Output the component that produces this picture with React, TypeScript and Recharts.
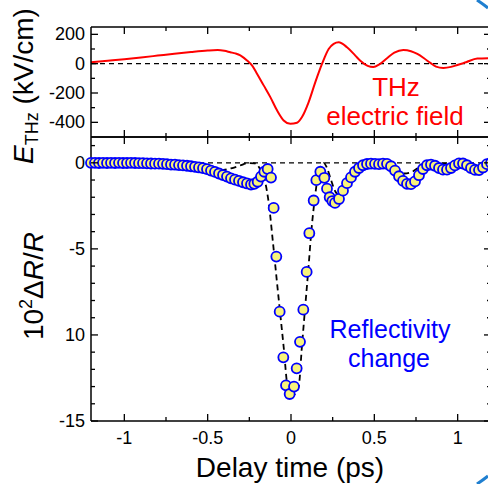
import React from "react";
import { ComposedChart, Line, XAxis, YAxis, ReferenceLine } from "recharts";

// THz field waveform (ps, kV/cm)
const fieldData = [
  { t: -1.2, e: 10 }, { t: -1.1, e: 20 }, { t: -1.0, e: 30 }, { t: -0.9, e: 42 },
  { t: -0.8, e: 55 }, { t: -0.7, e: 68 }, { t: -0.6, e: 80 }, { t: -0.5, e: 90 },
  { t: -0.44, e: 93 }, { t: -0.4, e: 88 }, { t: -0.364, e: 78 }, { t: -0.334, e: 70 },
  { t: -0.304, e: 57 }, { t: -0.264, e: 22 }, { t: -0.234, e: -12 }, { t: -0.204, e: -68 },
  { t: -0.164, e: -148 }, { t: -0.124, e: -228 }, { t: -0.084, e: -318 }, { t: -0.044, e: -387 },
  { t: -0.004, e: -410 }, { t: 0.036, e: -403 }, { t: 0.066, e: -364 }, { t: 0.106, e: -262 },
  { t: 0.146, e: -126 }, { t: 0.186, e: -2 }, { t: 0.226, e: 100 }, { t: 0.256, e: 135 },
  { t: 0.286, e: 146 }, { t: 0.336, e: 112 }, { t: 0.386, e: 55 }, { t: 0.416, e: 20 },
  { t: 0.46, e: -15 }, { t: 0.494, e: -23 }, { t: 0.53, e: -5 }, { t: 0.578, e: 39 },
  { t: 0.62, e: 75 }, { t: 0.674, e: 93 }, { t: 0.72, e: 85 }, { t: 0.758, e: 66 },
  { t: 0.8, e: 35 }, { t: 0.836, e: 5 }, { t: 0.87, e: -20 }, { t: 0.914, e: -29 },
  { t: 0.96, e: -22 }, { t: 0.998, e: -9 }, { t: 1.05, e: 10 }, { t: 1.118, e: 35 },
  { t: 1.2, e: 38 },
];

// measured reflectivity change (10^2 dR/R)
const reflData = [
  { t: -1.2, r: 0 }, { t: -1.176, r: 0 }, { t: -1.152, r: -0.01 }, { t: -1.128, r: 0 },
  { t: -1.104, r: -0.01 }, { t: -1.08, r: 0 }, { t: -1.056, r: -0.01 }, { t: -1.032, r: 0 },
  { t: -1.008, r: -0.01 }, { t: -0.984, r: -0.01 }, { t: -0.96, r: 0 }, { t: -0.936, r: -0.01 },
  { t: -0.912, r: -0.02 }, { t: -0.888, r: -0.02 }, { t: -0.864, r: -0.03 }, { t: -0.84, r: -0.04 },
  { t: -0.816, r: -0.05 }, { t: -0.792, r: -0.05 }, { t: -0.768, r: -0.06 }, { t: -0.744, r: -0.08 },
  { t: -0.72, r: -0.1 }, { t: -0.696, r: -0.11 }, { t: -0.672, r: -0.13 }, { t: -0.648, r: -0.15 },
  { t: -0.624, r: -0.17 }, { t: -0.6, r: -0.2 }, { t: -0.576, r: -0.23 }, { t: -0.552, r: -0.27 },
  { t: -0.528, r: -0.31 }, { t: -0.504, r: -0.37 }, { t: -0.48, r: -0.45 }, { t: -0.456, r: -0.53 },
  { t: -0.432, r: -0.62 }, { t: -0.408, r: -0.71 }, { t: -0.384, r: -0.8 }, { t: -0.36, r: -0.9 },
  { t: -0.336, r: -0.98 }, { t: -0.312, r: -1.05 }, { t: -0.288, r: -1.13 }, { t: -0.264, r: -1.2 },
  { t: -0.24, r: -1.26 }, { t: -0.22, r: -1.22 }, { t: -0.2, r: -1.1 }, { t: -0.18, r: -0.8 },
  { t: -0.16, r: -0.52 }, { t: -0.14, r: -0.36 }, { t: -0.12, r: -0.86 }, { t: -0.104, r: -2.62 },
  { t: -0.088, r: -5.45 }, { t: -0.068, r: -8.65 }, { t: -0.046, r: -11.3 }, { t: -0.03, r: -12.93 },
  { t: -0.008, r: -13.43 }, { t: 0.018, r: -13.0 }, { t: 0.034, r: -11.94 }, { t: 0.054, r: -10.4 },
  { t: 0.074, r: -8.53 }, { t: 0.094, r: -6.34 }, { t: 0.11, r: -4.09 }, { t: 0.136, r: -2.19 },
  { t: 0.152, r: -1.01 }, { t: 0.176, r: -0.52 }, { t: 0.2, r: -0.87 }, { t: 0.216, r: -1.5 },
  { t: 0.232, r: -2.0 }, { t: 0.248, r: -2.22 }, { t: 0.264, r: -2.33 }, { t: 0.288, r: -2.1 },
  { t: 0.312, r: -1.62 }, { t: 0.336, r: -1.18 }, { t: 0.36, r: -0.85 }, { t: 0.384, r: -0.52 },
  { t: 0.408, r: -0.3 }, { t: 0.432, r: -0.14 }, { t: 0.456, r: -0.07 }, { t: 0.48, r: -0.05 },
  { t: 0.504, r: -0.06 }, { t: 0.528, r: -0.08 }, { t: 0.552, r: -0.05 }, { t: 0.576, r: -0.06 },
  { t: 0.6, r: -0.2 }, { t: 0.624, r: -0.45 }, { t: 0.648, r: -0.78 }, { t: 0.672, r: -1.05 },
  { t: 0.696, r: -1.22 }, { t: 0.72, r: -1.24 }, { t: 0.744, r: -1.08 }, { t: 0.768, r: -0.72 },
  { t: 0.792, r: -0.36 }, { t: 0.816, r: -0.14 }, { t: 0.84, r: -0.1 }, { t: 0.864, r: -0.17 },
  { t: 0.888, r: -0.3 }, { t: 0.912, r: -0.4 }, { t: 0.936, r: -0.4 }, { t: 0.96, r: -0.3 },
  { t: 0.984, r: -0.15 }, { t: 1.008, r: -0.03 }, { t: 1.032, r: -0.04 }, { t: 1.056, r: -0.14 },
  { t: 1.08, r: -0.3 }, { t: 1.104, r: -0.41 }, { t: 1.128, r: -0.42 }, { t: 1.152, r: -0.27 },
  { t: 1.176, r: -0.08 }, { t: 1.2, r: 0 },
];

// E^2-type fit (dashed)
const fitData = [
  { t: -1.2, f: 0 }, { t: -1.0, f: -0.05 }, { t: -0.84, f: -0.12 }, { t: -0.7, f: -0.25 },
  { t: -0.6, f: -0.36 }, { t: -0.52, f: -0.42 }, { t: -0.44, f: -0.44 }, { t: -0.36, f: -0.32 },
  { t: -0.3, f: -0.14 }, { t: -0.26, f: -0.02 }, { t: -0.22, f: -0.03 }, { t: -0.184, f: -0.39 },
  { t: -0.154, f: -1.16 }, { t: -0.134, f: -2.3 }, { t: -0.108, f: -4.65 }, { t: -0.084, f: -6.95 },
  { t: -0.044, f: -10.7 }, { t: -0.02, f: -13.0 }, { t: 0.012, f: -13.5 }, { t: 0.046, f: -13.0 },
  { t: 0.066, f: -10.6 }, { t: 0.086, f: -8.27 }, { t: 0.106, f: -5.95 }, { t: 0.12, f: -4.2 },
  { t: 0.14, f: -2.3 }, { t: 0.16, f: -0.87 }, { t: 0.18, f: -0.2 }, { t: 0.196, f: 0 },
  { t: 0.216, f: -0.3 }, { t: 0.236, f: -0.87 }, { t: 0.266, f: -1.67 }, { t: 0.29, f: -1.9 },
  { t: 0.32, f: -1.55 }, { t: 0.35, f: -1.05 }, { t: 0.39, f: -0.45 }, { t: 0.43, f: -0.1 },
  { t: 0.47, f: -0.01 }, { t: 0.5, f: -0.03 }, { t: 0.55, f: -0.02 }, { t: 0.6, f: -0.15 },
  { t: 0.65, f: -0.45 }, { t: 0.68, f: -0.62 }, { t: 0.72, f: -0.55 }, { t: 0.76, f: -0.32 },
  { t: 0.8, f: -0.1 }, { t: 0.84, f: 0 }, { t: 0.9, f: -0.05 }, { t: 0.95, f: -0.05 },
  { t: 1.0, f: 0 }, { t: 1.06, f: -0.05 }, { t: 1.12, f: -0.12 }, { t: 1.2, f: -0.12 },
];

const delayMajor = [-1, -0.5, 0, 0.5, 1];
const delayLabels = ["-1", "-0.5", "0", "0.5", "1"];
const delayMinor = [-0.75, -0.25, 0.25, 0.75];

const fieldMajor = [200, 0, -200, -400];
const fieldLabels = ["200", "0", "-200", "-400"];
const fieldMinor = [100, -100, -300];

const reflMajor = [0, -5, -10, -15];
const reflLabels = ["0", "-5", "10", "-15"];
const reflMinor = [1, -1, -2, -3, -4, -6, -7, -8, -9, -11, -12, -13, -14];

const FONT = "'Liberation Sans', Arial, Helvetica, sans-serif";

const makeTick =
  (side: string, majors: number[], labels: string[] | null) => (props: any) => {
    const { x, y, payload } = props;
    const i = majors.findIndex((m) => Math.abs(m - payload.value) < 1e-6);
    const len = i >= 0 ? 7 : 4;
    let line = null;
    let text = null;
    if (side === "left") {
      line = <line x1={x} y1={y} x2={x + len} y2={y} />;
      if (labels && i >= 0)
        text = <text x={x - 6} y={y + 6} textAnchor='end'>{labels[i]}</text>;
    } else if (side === "right") {
      line = <line x1={x} y1={y} x2={x - len} y2={y} />;
    } else if (side === "bottom") {
      line = <line x1={x} y1={y} x2={x} y2={y - len} />;
      if (labels && i >= 0)
        text = <text x={x} y={y + 23} textAnchor='middle'>{labels[i]}</text>;
    } else {
      line = <line x1={x} y1={y} x2={x} y2={y + len} />;
    }
    return (
      <g>
        <g stroke='#000' strokeWidth={1.3}>{line}</g>
        {text && (
          <g fill='#000' fontSize={18} fontFamily={FONT}>
            {text}
          </g>
        )}
      </g>
    );
  };

const axisLine = { stroke: "#000", strokeWidth: 1.5 };
const delayTicks = [...delayMajor, ...delayMinor];

export default function App() {
  return (
    <div
      style={{
        position: "absolute",
        left: 0,
        top: 0,
        width: 488,
        height: 484,
        overflow: "hidden",
        background: "#fff",
      }}
    >
      {/* THz field panel */}
      <div style={{ position: "absolute", left: 0, top: 0 }}>
        <ComposedChart width={492} height={138} margin={{ top: 26, right: 0, bottom: 0, left: 0 }}>
          <XAxis xAxisId='b' dataKey='t' type='number' domain={[-1.2, 1.2]} allowDataOverflow
            orientation='bottom' height={1} ticks={delayTicks} interval={0} tickSize={0} tickMargin={0}
            tickLine={false} axisLine={axisLine} tick={makeTick("bottom", delayMajor, null)} />
          <XAxis xAxisId='t' dataKey='t' type='number' domain={[-1.2, 1.2]} allowDataOverflow
            orientation='top' height={1} ticks={delayTicks} interval={0} tickSize={0} tickMargin={0}
            tickLine={false} axisLine={axisLine} tick={makeTick("top", delayMajor, null)} />
          <YAxis yAxisId='l' type='number' domain={[-500, 250]} allowDataOverflow width={91}
            ticks={[...fieldMajor, ...fieldMinor]} interval={0} tickSize={0} tickMargin={0}
            tickLine={false} axisLine={axisLine} tick={makeTick("left", fieldMajor, fieldLabels)} />
          <YAxis yAxisId='r' orientation='right' type='number' domain={[-500, 250]} allowDataOverflow width={1}
            ticks={[...fieldMajor, ...fieldMinor]} interval={0} tickSize={0} tickMargin={0}
            tickLine={false} axisLine={axisLine} tick={makeTick("right", fieldMajor, null)} />
          <ReferenceLine xAxisId='b' yAxisId='l' y={0} stroke='#000' strokeWidth={1.3} strokeDasharray='5 4' />
          <Line xAxisId='b' yAxisId='l' data={fieldData} dataKey='e' type='monotone'
            stroke='#ff0000' strokeWidth={2} dot={false} activeDot={false} isAnimationActive={false} />
        </ComposedChart>
      </div>

      {/* reflectivity panel */}
      <div style={{ position: "absolute", left: 0, top: 136 }}>
        <ComposedChart width={492} height={348} margin={{ top: 0, right: 0, bottom: 0, left: 0 }}>
          <XAxis xAxisId='b' dataKey='t' type='number' domain={[-1.2, 1.2]} allowDataOverflow
            orientation='bottom' height={63} ticks={delayTicks} interval={0} tickSize={0} tickMargin={0}
            tickLine={false} axisLine={axisLine} tick={makeTick("bottom", delayMajor, delayLabels)} />
          <XAxis xAxisId='t' dataKey='t' type='number' domain={[-1.2, 1.2]} allowDataOverflow
            orientation='top' height={1} ticks={delayTicks} interval={0} tickSize={0} tickMargin={0}
            tickLine={false} axisLine={axisLine} tick={makeTick("top", delayMajor, null)} />
          <YAxis yAxisId='l' type='number' domain={[-15, 1.5]} allowDataOverflow width={91}
            ticks={[...reflMajor, ...reflMinor]} interval={0} tickSize={0} tickMargin={0}
            tickLine={false} axisLine={axisLine} tick={makeTick("left", reflMajor, reflLabels)} />
          <YAxis yAxisId='r' orientation='right' type='number' domain={[-15, 1.5]} allowDataOverflow width={1}
            ticks={[...reflMajor, ...reflMinor]} interval={0} tickSize={0} tickMargin={0}
            tickLine={false} axisLine={axisLine} tick={makeTick("right", reflMajor, null)} />
          <ReferenceLine xAxisId='b' yAxisId='l' y={0} stroke='#000' strokeWidth={1.3} strokeDasharray='5 4' />
          <Line xAxisId='b' yAxisId='l' data={reflData} dataKey='r' stroke='none'
            dot={{ r: 5, fill: "#f8f37c", stroke: "#0000ff", strokeWidth: 1.8, clipDot: false }}
            activeDot={false} isAnimationActive={false} />
          <Line xAxisId='b' yAxisId='l' data={fitData} dataKey='f' type='monotone'
            stroke='#000' strokeWidth={1.8} strokeDasharray='6 4' dot={false} activeDot={false}
            isAnimationActive={false} />
        </ComposedChart>
      </div>

      {/* titles and annotations */}
      <svg width={488} height={484} style={{ position: "absolute", left: 0, top: 0, pointerEvents: "none" }}
        fontFamily={FONT}>
        <text x={33} y={86} transform='rotate(-90 33 86)' textAnchor='middle' fontSize={28} fill='#000'>
          <tspan fontStyle='italic'>E</tspan>
          <tspan fontSize={18} dy={5}>THz</tspan>
          <tspan dy={-5}> (kV/cm)</tspan>
        </text>
        <text x={43} y={286} transform='rotate(-90 43 286)' textAnchor='middle' fontSize={28} fill='#000'>
          <tspan>10</tspan>
          <tspan fontSize={18} dy={-11}>2</tspan>
          <tspan dy={11}>Δ</tspan>
          <tspan fontStyle='italic'>R</tspan>
          <tspan>/</tspan>
          <tspan fontStyle='italic'>R</tspan>
        </text>
        <text x={290} y={477} textAnchor='middle' fontSize={28} fill='#000'>Delay time (ps)</text>
        <text textAnchor='middle' fontSize={26} fill='#ff0000'>
          <tspan x={396} y={96}>THz</tspan>
          <tspan x={395} y={125}>electric field</tspan>
        </text>
        <text textAnchor='middle' fontSize={25} fill='#0000ff'>
          <tspan x={390} y={338}>Reflectivity</tspan>
          <tspan x={389} y={367}>change</tspan>
        </text>
        <path d='M 477 0 Q 483 4 488 8' stroke='#1f7fd0' strokeWidth={3} fill='none' />
        <path d='M 477 484 Q 483 480 488 476' stroke='#1f7fd0' strokeWidth={3} fill='none' />
      </svg>
    </div>
  );
}
